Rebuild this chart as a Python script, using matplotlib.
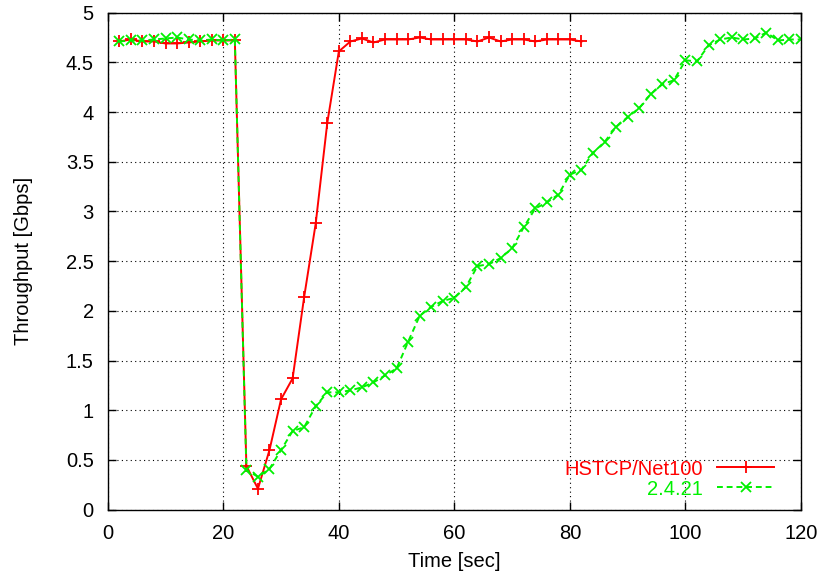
import matplotlib.pyplot as plt

plt.rcParams['font.family'] = ['Liberation Sans', 'DejaVu Sans']

# time in seconds
t_hstcp = list(range(2, 84, 2))
t_stock = list(range(2, 122, 2))

# throughput in Gbps
thr_hstcp = [4.71, 4.73, 4.71, 4.71, 4.69, 4.69, 4.70, 4.71, 4.72, 4.72, 4.72,
             0.44, 0.21, 0.60, 1.11, 1.32, 2.14, 2.88, 3.89,
             4.61, 4.71, 4.74, 4.70, 4.73, 4.73, 4.73, 4.75, 4.73, 4.73, 4.73,
             4.73, 4.71, 4.75, 4.71, 4.73, 4.73, 4.71, 4.73, 4.73, 4.73, 4.71]
thr_stock = [4.71, 4.72, 4.72, 4.73, 4.74, 4.75, 4.73, 4.72, 4.73, 4.72, 4.73,
             0.40, 0.33, 0.41, 0.60, 0.79, 0.83, 1.04, 1.18, 1.18, 1.20, 1.23,
             1.28, 1.35, 1.42, 1.69, 1.95, 2.04, 2.10, 2.13, 2.24, 2.45, 2.47,
             2.53, 2.63, 2.84, 3.03, 3.09, 3.17, 3.37, 3.42, 3.59, 3.70, 3.85,
             3.95, 4.04, 4.18, 4.28, 4.32, 4.52, 4.51, 4.67, 4.73, 4.75, 4.73,
             4.74, 4.80, 4.72, 4.73, 4.73]

fig = plt.figure(figsize=(8.23, 5.75), dpi=100)
ax = fig.add_axes([0.1309, 0.1137, 0.8424, 0.8643])

ax.plot(t_hstcp, thr_hstcp, color='red', marker='+', markersize=9,
        markeredgewidth=1.3, linewidth=1.4, label='HSTCP/Net100')
ax.plot(t_stock, thr_stock, color='#00f000', marker='x', markersize=6.5,
        markeredgewidth=1.3, linewidth=1.4, linestyle=(0, (3, 2)), label='2.4.21')

ax.set_xlim(0, 120)
ax.set_ylim(0, 5)
ax.set_xticks(range(0, 121, 20))
ax.set_yticks([0, 0.5, 1, 1.5, 2, 2.5, 3, 3.5, 4, 4.5, 5])
ax.set_yticklabels(['0', '0.5', '1', '1.5', '2', '2.5', '3', '3.5', '4', '4.5', '5'])
ax.grid(True, color='black', linestyle=(0, (1, 3)), linewidth=0.8)
ax.tick_params(direction='in', top=True, right=True, length=6, width=1,
               labelsize=14.5, pad=10)
for s in ax.spines.values():
    s.set_linewidth(1)

ax.set_xlabel('Time [sec]', fontsize=14.5, labelpad=7)
ax.set_ylabel('Throughput [Gbps]', fontsize=14.5, labelpad=24)

ax.legend(loc='lower right', bbox_to_anchor=(0.982, -0.006), frameon=False,
          markerfirst=False, labelcolor='linecolor', fontsize=14.5,
          handlelength=2.85, handletextpad=0.7, labelspacing=0.05,
          borderaxespad=0.3)

fig.savefig('out.png', dpi=100)
